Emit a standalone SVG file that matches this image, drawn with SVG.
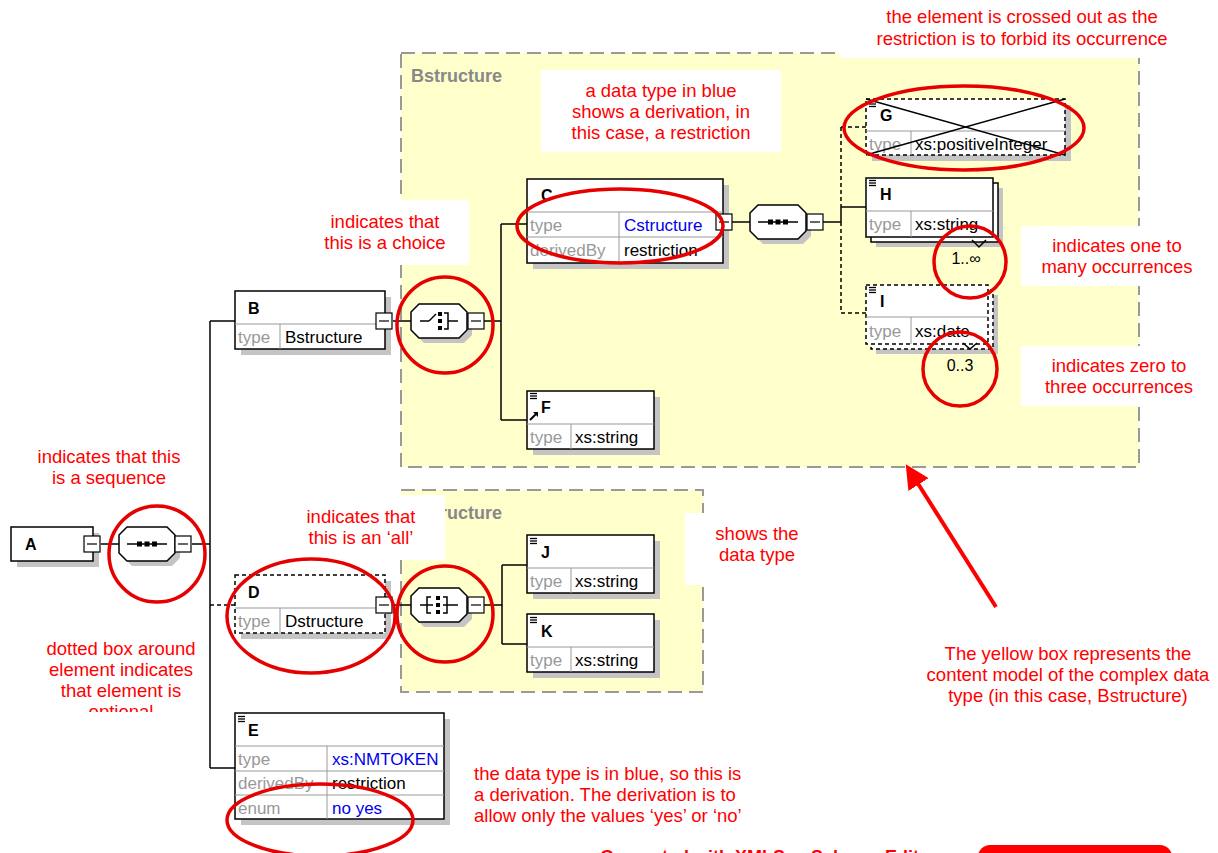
<svg xmlns="http://www.w3.org/2000/svg" xmlns:xlink="http://www.w3.org/1999/xlink" width="1218" height="853" viewBox="0 0 1218 853">
<style>
.bg{fill:#fff}
.yb{fill:#FFFFCC;stroke:#999;stroke-width:2;stroke-dasharray:14 7}
.wb{fill:#fff}
.sh{fill:#c4c4c4}
.box{fill:#fff;stroke:#000;stroke-width:1.5}
.dbox{fill:#fff;stroke:#000;stroke-width:1.5;stroke-dasharray:4 3}
.div{stroke:#999;stroke-width:1}
.nm{font-family:"Liberation Sans",Arial,sans-serif;font-weight:bold;font-size:16px;fill:#000}
.k{font-family:"Liberation Sans",Arial,sans-serif;font-size:17px;fill:#999}
.v{font-family:"Liberation Sans",Arial,sans-serif;font-size:17px;fill:#000}
.bl{fill:#0000ee}
.tt{font-family:"Liberation Sans",Arial,sans-serif;font-weight:bold;font-size:18px;fill:#888}
.ann{font-family:"Liberation Sans",Arial,sans-serif;font-size:18.5px;fill:#ff0000;text-anchor:middle}
.annl{font-family:"Liberation Sans",Arial,sans-serif;font-size:18.5px;fill:#ff0000}
.ring{fill:none;stroke:#e60000;stroke-width:3.5}
.ln{stroke:#000;stroke-width:1.5;fill:none}
.dl{stroke:#000;stroke-width:1.5;fill:none;stroke-dasharray:4 3}
.occ{font-family:"Liberation Sans",Arial,sans-serif;font-size:16px;fill:#000}
</style>
<defs>
<g id="minus"><rect x="0" y="0" width="16" height="16" fill="#fff" stroke="#000" stroke-width="1.2"/><line x1="3" y1="8" x2="13" y2="8" stroke="#000" stroke-width="1.2"/></g>
<g id="oct"><path d="M8,0 H48 L56,8 V26 L48,34 H8 L0,26 V8 Z" transform="translate(5,5)" fill="#c4c4c4"/><path d="M8,0 H48 L56,8 V26 L48,34 H8 L0,26 V8 Z" fill="#fff" stroke="#000" stroke-width="1.5"/></g>
<g id="seqg"><line x1="8" y1="17" x2="48" y2="17" stroke="#000" stroke-width="1.5"/><rect x="18" y="14.5" width="5" height="5" fill="#000"/><rect x="25.5" y="14.5" width="5" height="5" fill="#000"/><rect x="33" y="14.5" width="5" height="5" fill="#000"/></g>
<g id="chg" fill="none" stroke="#000" stroke-width="1.5"><line x1="9" y1="17" x2="18" y2="17"/><line x1="18" y1="17" x2="25" y2="10"/><rect x="27" y="8" width="4" height="4" fill="#000" stroke="none"/><rect x="27" y="15" width="4" height="4" fill="#000" stroke="none"/><rect x="27" y="22" width="4" height="4" fill="#000" stroke="none"/><path d="M33,9 H37 V25 H33"/><line x1="37" y1="17" x2="47" y2="17"/></g>
<g id="allg" fill="none" stroke="#000" stroke-width="1.5"><line x1="9" y1="17" x2="22" y2="17"/><path d="M20,9 H16 V25 H20"/><rect x="25" y="8" width="4" height="4" fill="#000" stroke="none"/><rect x="25" y="15" width="4" height="4" fill="#000" stroke="none"/><rect x="25" y="22" width="4" height="4" fill="#000" stroke="none"/><path d="M32,9 H36 V25 H32"/><line x1="32" y1="17" x2="47" y2="17"/></g>
<g id="ic" stroke="#000" stroke-width="1.3"><line x1="0" y1="0.5" x2="7" y2="0.5"/><line x1="0" y1="3" x2="7" y2="3"/><line x1="0" y1="5.5" x2="7" y2="5.5"/></g>
<marker id="ah" markerWidth="6" markerHeight="6" refX="4" refY="3" orient="auto" markerUnits="strokeWidth"><path d="M0,0 L6,3 L0,6 Z" fill="#ff0000"/></marker>
</defs>
<rect class="bg" x="0" y="0" width="1218" height="853"/>

<g id="complex-types">
<rect class="yb" x="401" y="53" width="738" height="414"/>
<text class="tt" x="411" y="82">Bstructure</text>
<rect class="yb" x="401" y="490" width="302" height="202"/>
<text class="tt" x="411" y="519">Dstructure</text>
</g>

<g id="annotation-backgrounds">
<rect class="wb" x="840" y="0" width="378" height="58"/>
<rect class="wb" x="541" y="70" width="240" height="82"/>
<rect class="wb" x="322" y="200" width="147" height="65"/>
<rect class="wb" x="1021" y="226" width="174" height="60"/>
<rect class="wb" x="1021" y="346" width="174" height="60"/>
<rect class="wb" x="290" y="495" width="155" height="65"/>
<rect class="wb" x="685" y="513" width="140" height="72"/>
</g>

<g id="connectors">
<line class="ln" x1="101" y1="544" x2="119" y2="544"/>
<line class="ln" x1="192" y1="544" x2="210" y2="544"/>
<line class="ln" x1="210" y1="321" x2="210" y2="768"/>
<line class="ln" x1="210" y1="321" x2="235" y2="321"/>
<line class="dl" x1="210" y1="605" x2="235" y2="605"/>
<line class="ln" x1="210" y1="768" x2="235" y2="768"/>
<line class="ln" x1="393" y1="321" x2="411" y2="321"/>
<line class="ln" x1="484" y1="321" x2="501" y2="321"/>
<line class="ln" x1="501" y1="224" x2="501" y2="420"/>
<line class="ln" x1="501" y1="224" x2="527" y2="224"/>
<line class="ln" x1="501" y1="420" x2="527" y2="420"/>
<line class="ln" x1="732" y1="222" x2="750" y2="222"/>
<line class="ln" x1="823" y1="222" x2="841" y2="222"/>
<line class="ln" x1="841" y1="207" x2="841" y2="222"/>
<line class="dl" x1="841" y1="127" x2="841" y2="207"/>
<line class="dl" x1="841" y1="222" x2="841" y2="313"/>
<line class="dl" x1="841" y1="127" x2="866" y2="127"/>
<line class="ln" x1="841" y1="207" x2="866" y2="207"/>
<line class="dl" x1="841" y1="313" x2="866" y2="313"/>
<line class="ln" x1="393" y1="605" x2="411" y2="605"/>
<line class="ln" x1="484" y1="605" x2="502" y2="605"/>
<line class="ln" x1="502" y1="565" x2="502" y2="644"/>
<line class="ln" x1="502" y1="565" x2="527" y2="565"/>
<line class="ln" x1="502" y1="644" x2="527" y2="644"/>
</g>

<g id="node-A">
<rect class="sh" x="17" y="533" width="82" height="34"/>
<rect class="box" x="11" y="527" width="82" height="34"/>
<text class="nm" x="25" y="550">A</text>
<use xlink:href="#minus" x="84" y="536"/>
</g>

<g id="seq-A">
<use xlink:href="#oct" x="119" y="527"/>
<use xlink:href="#seqg" x="119" y="527"/>
<use xlink:href="#minus" x="175" y="536"/>
</g>

<g id="node-B">
<rect class="sh" x="241" y="297" width="150" height="58"/>
<rect class="box" x="235" y="291" width="150" height="58"/>
<line class="div" x1="235" y1="324" x2="385" y2="324"/>
<line class="div" x1="280" y1="324" x2="280" y2="349"/>
<text class="nm" x="248" y="314">B</text>
<text class="k" x="238" y="343">type</text>
<text class="v" x="285" y="343">Bstructure</text>
<use xlink:href="#minus" x="376" y="313"/>
</g>

<g id="choice-B">
<use xlink:href="#oct" x="411" y="304"/>
<use xlink:href="#chg" x="411" y="304"/>
<use xlink:href="#minus" x="468" y="313"/>
</g>

<g id="node-C">
<rect class="sh" x="533" y="185" width="196" height="84"/>
<rect class="box" x="527" y="179" width="196" height="84"/>
<line class="div" x1="527" y1="212" x2="723" y2="212"/>
<line class="div" x1="527" y1="237" x2="723" y2="237"/>
<line class="div" x1="619" y1="212" x2="619" y2="263"/>
<text class="nm" x="541" y="201">C</text>
<text class="k" x="530" y="231">type</text>
<text class="v bl" x="624" y="231">Cstructure</text>
<text class="k" x="530" y="256">derivedBy</text>
<text class="v" x="624" y="256">restriction</text>
<use xlink:href="#minus" x="716" y="214"/>
</g>

<g id="seq-C">
<use xlink:href="#oct" x="750" y="205"/>
<use xlink:href="#seqg" x="750" y="205"/>
<use xlink:href="#minus" x="807" y="214"/>
</g>

<g id="node-G">
<rect class="sh" x="872" y="105" width="199" height="56"/>
<rect class="dbox" x="866" y="99" width="199" height="56"/>
<line class="div" x1="866" y1="131" x2="1065" y2="131"/>
<line class="div" x1="911" y1="131" x2="911" y2="155"/>
<use xlink:href="#ic" x="869" y="101"/>
<text class="nm" x="880" y="121">G</text>
<text class="k" x="869" y="150">type</text>
<text class="v" x="915" y="150">xs:positiveInteger</text>
<line class="ln" x1="866" y1="99" x2="1065" y2="155"/>
<line class="ln" x1="866" y1="155" x2="1065" y2="99"/>
</g>

<g id="node-H">
<rect class="sh" x="876" y="188" width="127" height="59"/>
<rect class="box" x="871" y="183" width="127" height="59"/>
<rect class="box" x="866" y="178" width="127" height="59"/>
<line class="div" x1="866" y1="211" x2="993" y2="211"/>
<line class="div" x1="911" y1="211" x2="911" y2="237"/>
<use xlink:href="#ic" x="869" y="180"/>
<text class="nm" x="880" y="200">H</text>
<text class="k" x="869" y="230">type</text>
<text class="v" x="915" y="230">xs:string</text>
<path class="ln" d="M972,240 L979,247 L986,240" stroke-width="1"/>
<text class="occ" x="966" y="264" text-anchor="middle">1..∞</text>
</g>

<g id="node-I">
<rect class="sh" x="876" y="295" width="122" height="59"/>
<rect class="dbox" x="871" y="290" width="122" height="59"/>
<rect class="dbox" x="866" y="285" width="122" height="59"/>
<line class="div" x1="866" y1="317" x2="988" y2="317"/>
<line class="div" x1="911" y1="317" x2="911" y2="344"/>
<use xlink:href="#ic" x="869" y="287"/>
<text class="nm" x="880" y="307">I</text>
<text class="k" x="869" y="337">type</text>
<text class="v" x="915" y="337">xs:date</text>
<path class="ln" d="M963,343 L970,349 L977,343" stroke-width="1"/>
<text class="occ" x="960" y="371" text-anchor="middle">0..3</text>
</g>

<g id="node-F">
<rect class="sh" x="533" y="397" width="127" height="58"/>
<rect class="box" x="527" y="391" width="127" height="58"/>
<line class="div" x1="527" y1="424" x2="654" y2="424"/>
<line class="div" x1="571" y1="424" x2="571" y2="449"/>
<use xlink:href="#ic" x="530" y="393"/>
<path d="M530,420 L536,414" stroke="#000" stroke-width="2"/>
<path d="M533,412 L538,412 L538,417 Z" fill="#000"/>
<text class="nm" x="541" y="413">F</text>
<text class="k" x="530" y="443">type</text>
<text class="v" x="575" y="443">xs:string</text>
</g>

<g id="node-D">
<rect class="sh" x="241" y="581" width="150" height="58"/>
<rect class="dbox" x="235" y="575" width="150" height="58"/>
<line class="div" x1="235" y1="608" x2="385" y2="608"/>
<line class="div" x1="280" y1="608" x2="280" y2="633"/>
<text class="nm" x="248" y="598">D</text>
<text class="k" x="238" y="627">type</text>
<text class="v" x="285" y="627">Dstructure</text>
<use xlink:href="#minus" x="376" y="597"/>
</g>

<g id="all-D">
<use xlink:href="#oct" x="411" y="588"/>
<use xlink:href="#allg" x="411" y="588"/>
<use xlink:href="#minus" x="468" y="597"/>
</g>

<g id="node-J">
<rect class="sh" x="533" y="541" width="127" height="58"/>
<rect class="box" x="527" y="535" width="127" height="58"/>
<line class="div" x1="527" y1="568" x2="654" y2="568"/>
<line class="div" x1="571" y1="568" x2="571" y2="593"/>
<use xlink:href="#ic" x="530" y="538"/>
<text class="nm" x="541" y="558">J</text>
<text class="k" x="530" y="587">type</text>
<text class="v" x="575" y="587">xs:string</text>
</g>

<g id="node-K">
<rect class="sh" x="533" y="620" width="127" height="58"/>
<rect class="box" x="527" y="614" width="127" height="58"/>
<line class="div" x1="527" y1="647" x2="654" y2="647"/>
<line class="div" x1="571" y1="647" x2="571" y2="672"/>
<use xlink:href="#ic" x="530" y="617"/>
<text class="nm" x="541" y="637">K</text>
<text class="k" x="530" y="666">type</text>
<text class="v" x="575" y="666">xs:string</text>
</g>

<g id="node-E">
<rect class="sh" x="241" y="719" width="209" height="106"/>
<rect class="box" x="235" y="713" width="209" height="106"/>
<line class="div" x1="235" y1="746" x2="444" y2="746"/>
<line class="div" x1="235" y1="771" x2="444" y2="771"/>
<line class="div" x1="235" y1="795" x2="444" y2="795"/>
<line class="div" x1="327" y1="746" x2="327" y2="819"/>
<use xlink:href="#ic" x="238" y="716"/>
<text class="nm" x="248" y="736">E</text>
<text class="k" x="238" y="765">type</text>
<text class="v bl" x="332" y="765">xs:NMTOKEN</text>
<text class="k" x="238" y="789">derivedBy</text>
<text class="v" x="332" y="789">restriction</text>
<text class="k" x="238" y="814">enum</text>
<text class="v bl" x="332" y="814">no yes</text>
</g>

<g id="highlights">
<circle class="ring" cx="157" cy="554" r="48"/>
<circle class="ring" cx="445" cy="325" r="48"/>
<ellipse class="ring" cx="620" cy="226" rx="103" ry="37"/>
<ellipse class="ring" cx="964" cy="128" rx="120" ry="42"/>
<circle class="ring" cx="970" cy="262" r="36"/>
<circle class="ring" cx="960" cy="369" r="37"/>
<ellipse class="ring" cx="311" cy="616" rx="84" ry="57"/>
<circle class="ring" cx="445" cy="614" r="48"/>
<ellipse class="ring" cx="320" cy="820" rx="93" ry="36"/>
</g>

<g id="annotations">
<text class="ann" x="1022" y="23">the element is crossed out as the</text>
<text class="ann" x="1022" y="45">restriction is to forbid its occurrence</text>
<text class="ann" x="661" y="97">a data type in blue</text>
<text class="ann" x="661" y="118">shows a derivation, in</text>
<text class="ann" x="661" y="139">this case, a restriction</text>
<text class="ann" x="385" y="228">indicates that</text>
<text class="ann" x="385" y="249">this is a choice</text>
<text class="ann" x="1117" y="252">indicates one to</text>
<text class="ann" x="1117" y="273">many occurrences</text>
<text class="ann" x="1119" y="372">indicates zero to</text>
<text class="ann" x="1119" y="393">three occurrences</text>
<text class="ann" x="109" y="463">indicates that this</text>
<text class="ann" x="109" y="484">is a sequence</text>
<text class="ann" x="361" y="523">indicates that</text>
<text class="ann" x="361" y="544">this is an ‘all’</text>
<text class="ann" x="757" y="540">shows  the</text>
<text class="ann" x="757" y="561">data type</text>
<text class="ann" x="121" y="655">dotted box around</text>
<text class="ann" x="121" y="676">element indicates</text>
<text class="ann" x="121" y="697">that element is</text>
<text class="ann" x="121" y="718">optional</text>
<rect class="wb" x="20" y="712" width="185" height="14"/>
<text class="annl" x="474" y="780">the data type is in blue, so this is</text>
<text class="annl" x="474" y="801">a derivation. The derivation is to</text>
<text class="annl" x="474" y="822">allow only the values ‘yes’ or ‘no’</text>
<text class="ann" x="1068" y="660">The yellow box represents the</text>
<text class="ann" x="1068" y="681">content model of the complex data</text>
<text class="ann" x="1068" y="702">type (in this case, Bstructure)</text>
<line x1="996" y1="607" x2="910" y2="471" stroke="#ff0000" stroke-width="4" marker-end="url(#ah)"/>
</g>

<g id="footer">
<text x="600" y="863" font-family="'Liberation Sans',Arial,sans-serif" font-weight="bold" font-size="18" fill="#ff0000">Generated with XMLSpy Schema Editor</text>
<rect x="978" y="845" width="194" height="30" rx="12" fill="#ff0000"/>
</g>
</svg>
